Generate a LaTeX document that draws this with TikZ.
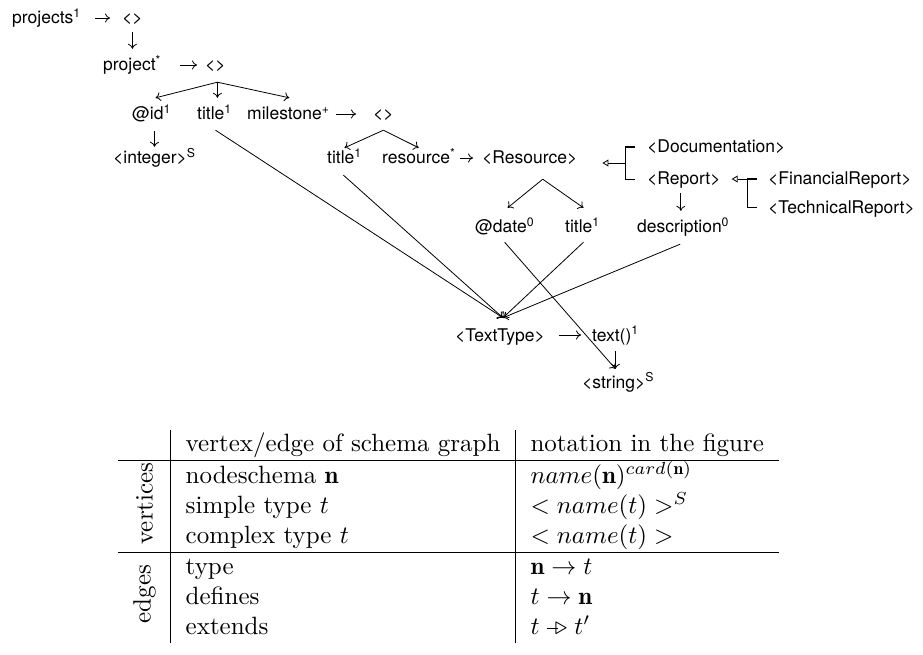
\documentclass[tikz,border=0pt]{standalone}
\usepackage{fontspec}
\usepackage{multirow}
\usepackage{graphicx}
\usetikzlibrary{arrows.meta,calc}
\newfontfamily\graphfont{TeX Gyre Heros}
\newcommand{\extarrow}{\mathrel{\rule[0.23em]{0.45em}{0.04em}\mkern-2mu\triangleright}}

\begin{document}
\begin{tikzpicture}[x=1pt,y=-1pt,
  lbl/.style={font={\graphfont\fontsize{17.5}{21}\selectfont}, inner sep=0pt,
              text height=13pt, text depth=1pt, anchor=west},
  arr/.style={-{To[length=5pt,width=9pt]}, line width=0.8pt},
  ext/.style={line width=0.8pt},
  exttip/.style={-{Triangle[open,length=6pt,width=7pt]}, line width=0.8pt}]
\useasboundingbox (0,0) rectangle (923,655);

% ---------------- schema graph ----------------
\node[lbl] (projects) at (12,18)  {projects\textsuperscript{1}};
\node[lbl] (cA)       at (122,18) {<>};
\node[lbl] (project)  at (103,65) {project\textsuperscript{*}};
\node[lbl] (cB)       at (205,65) {<>};

\node[lbl] (id)        at (132,114) {@id\textsuperscript{1}};
\node[lbl] (title1)    at (197,114) {title\textsuperscript{1}};
\node[lbl] (milestone) at (247,114) {milestone\textsuperscript{+}};
\node[lbl] (cC)        at (373,114) {<>};

\node[lbl] (integer)  at (113,158) {<integer>\textsuperscript{S}};
\node[lbl] (title2)   at (327,158) {title\textsuperscript{1}};
\node[lbl] (resource) at (382,158) {resource\textsuperscript{*}};
\node[lbl] (resty)    at (482,158) {<Resource>};

\node[lbl] (doc)    at (647,147) {<Documentation>};
\node[lbl] (report) at (647,179) {<Report>};
\node[lbl] (fin)    at (768,179) {<FinancialReport>};
\node[lbl] (tech)   at (768,207) {<TechnicalReport>};

\node[lbl] (date)   at (475,227) {@date\textsuperscript{0}};
\node[lbl] (title3) at (565,227) {title\textsuperscript{1}};
\node[lbl] (descr)  at (637,227) {description\textsuperscript{0}};

\node[lbl] (textty) at (455,335) {<TextType>};
\node[lbl] (textfn) at (592,335) {text()\textsuperscript{1}};
\node[lbl] (string) at (582,382) {<string>\textsuperscript{S}};

% type edges (node -> type)
\draw[arr] ($(projects.east)+(14,0)$) -- ($(cA.west)+(-12,0)$);
\draw[arr] ($(project.east)+(19,0)$) -- ($(cB.west)+(-8,0)$);
\draw[arr] ($(milestone.east)+(6,0)$) -- ($(cC.west)+(-17,0)$);
\draw[arr] ($(resource.east)+(5,0)$) -- ($(resty.west)+(-9,0)$);
\draw[arr] ($(textty.east)+(14,0)$) -- ($(textfn.west)+(-11,0)$);
\draw[arr] ($(id.south)+(3,10)$) -- ($(id.south |- integer.north)+(3,-4)$);
\draw[arr] ($(textfn.south)+(0,9)$) -- ($(textfn.south |- string.north)+(0,-6)$);
\draw[arr] ($(date.south)+(0,8)$) -- ($(textfn.south |- string.north)+(0,-6)$);

% defines edges (type -> node)
\draw[arr] ($(cA.south)+(0,7)$) -- ($(cA.south |- project.north)+(0,-9)$);
\draw[arr] ($(cB.south)+(2,10)$) -- ($(id.north)+(4,-9)$);
\draw[arr] ($(cB.south)+(2,10)$) -- ($(cB.south |- title1.north)+(2,-9)$);
\draw[arr] ($(cB.south)+(2,10)$) -- ($(milestone.north)+(1,-9)$);
\draw[arr] ($(cC.south)+(0,9)$) -- ($(title2.north)+(0,-3)$);
\draw[arr] ($(cC.south)+(0,9)$) -- ($(resource.north)+(0,-3)$);
\draw[arr] ($(resty.south)+(13,14)$) -- ($(date.north)+(3,-12)$);
\draw[arr] ($(resty.south)+(13,14)$) -- ($(title3.north)+(1,-12)$);
\draw[arr] ($(report.south)+(-3,7)$) -- ($(report.south |- descr.north)+(-3,-9)$);

% text content edges converging on <TextType>
\coordinate (ttin) at ($(textty.north)+(3,-10)$);
\draw[arr] ($(title1.south)+(1,9)$) -- (ttin);
\draw[arr] ($(title2.south)+(-1,10)$) -- (ttin);
\draw[arr] ($(title3.south)+(1,8)$) -- (ttin);
\draw[arr] ($(descr.south)+(-3,10)$) -- (ttin);

% extends edges
\draw[ext] ($(doc.west)+(-12,0)$) -- ++(-10,0) |- ($(report.west)+(-12,0)$);
\draw[line width=1.3pt] ($(doc.west)+(-12,0)$) -- ++(-10,0);
\coordinate (j1) at ($(doc.west)!0.5!(report.west)+(-22,0)$);
\draw[exttip] (j1) -- ($(j1 -| resty.east)+(25,0)$);

\draw[ext] ($(fin.west)+(-11,0)$) -- ++(-10,0) |- ($(tech.west)+(-11,0)$);
\draw[line width=1.3pt] ($(fin.west)+(-11,0)$) -- ++(-10,0);
\coordinate (j2) at ($(fin.west)+(-21,0)$);
\draw[exttip] (j2) -- ($(j2 -| report.east)+(11,0)$);

% ---------------- legend table ----------------
\node[anchor=north west, inner sep=0pt] (legend) at (118,430) {\scalebox{2.5}{%
\begin{tabular}{c|l|l}
 & vertex/edge of schema graph & notation in the figure \\ \hline
\multirow{3}{*}{\rotatebox{90}{vertices}} & nodeschema $\mathbf{n}$ & $name(\mathbf{n})^{card(\mathbf{n})}$ \\
 & simple type $t$ & $<name(t)>^S$ \\
 & complex type $t$ & $<name(t)>$ \\ \hline
\multirow{3}{*}{\rotatebox{90}{edges}} & type & $\mathbf{n}\rightarrow t$ \\
 & defines & $t\rightarrow\mathbf{n}$ \\
 & extends & $t\extarrow t'$ \\
\end{tabular}}};
\end{tikzpicture}
\end{document}
